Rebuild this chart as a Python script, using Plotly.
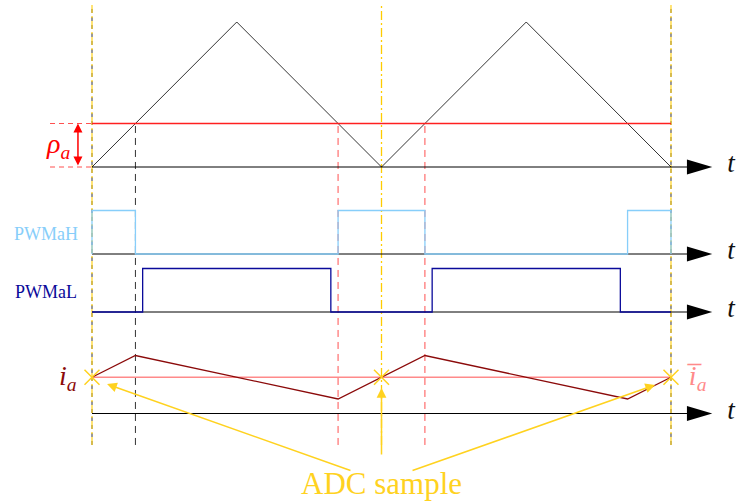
import plotly.graph_objects as go

# time in half carrier periods; signals normalised to carrier amplitude
carrier_t = [0, 1, 2, 3, 4]
carrier_v = [0, 1, 0, 1, 0]
rho = 0.3
pwm_h_edges = [(0.0, 0.3), (1.7, 2.3), (3.7, 4.0)]
pwm_l_edges = [(0.35, 1.65), (2.35, 3.65)]
current_t = [0, 0.3, 1.7, 2.3, 3.7, 4]
current_v = [0.0, 0.15, -0.15, 0.15, -0.15, 0.0]
sample_t = [0, 2, 4]
compare_t = [0.3, 1.7, 2.3]

# lane baselines
Y_CAR, Y_H, Y_L, Y_I = 0.0, -0.6, -1.0, -1.7
LANES = [Y_CAR, Y_H, Y_L, Y_I]
Y_IMEAN = -1.45
AMP = 0.3
T_END = 4
AXIS_END = 4.13
TOP, BOTTOM = 1.117, -1.917

SERIF = "Liberation Serif"
GOLD = "#FFD21F"
LIGHTBLUE = "#87CEFA"
NAVY = "#0A0A9A"
DARKRED = "#8B0A0A"
PINK = "#FF8A8A"


def step(edges, base, amp):
    xs, ys = [0], [base]
    for a, b in edges:
        xs += [a, a, b, b]
        ys += [base, base + amp, base + amp, base]
    xs.append(T_END)
    ys.append(base)
    return xs, ys


def line(fig, x, y, color, width=1, dash="solid"):
    fig.add_trace(go.Scatter(x=x, y=y, mode="lines", hoverinfo="skip",
                             line=dict(color=color, width=width, dash=dash)))


fig = go.Figure()

# vertical guides
for t in [0, T_END]:
    line(fig, [t, t], [BOTTOM, TOP], "#333333", 1, "4px,4px")
    line(fig, [t, t], [BOTTOM, TOP], GOLD, 1.2, "8px,3px,2px,3px")
line(fig, [2, 2], [BOTTOM, TOP], "#FFCC00", 1.3, "9px,3px,2px,3px")
for t in compare_t:
    col = "#333333" if t == compare_t[0] else "#FF5050"
    line(fig, [t, t], [BOTTOM, rho], col, 1, "7px,5px")

# time axes
for y in LANES:
    line(fig, [0, AXIS_END], [y, y], "black", 1)
    fig.add_shape(type="path", fillcolor="black", line=dict(width=0),
                  path=f"M {AXIS_END - 0.02} {y + 0.052} L {AXIS_END + 0.155} {y} "
                       f"L {AXIS_END - 0.02} {y - 0.052} Z")
fig.add_trace(go.Scatter(x=[4.415] * len(LANES), y=[y + 0.01 for y in LANES],
                         mode="text", text=["<i>t</i>"] * len(LANES),
                         textposition="middle center", cliponaxis=False,
                         hoverinfo="skip",
                         textfont=dict(family=SERIF, size=27, color="#111111")))

# carrier and compare level
line(fig, carrier_t, carrier_v, "black", 0.8)
line(fig, [0, T_END], [rho, rho], "#FF2020", 1.3)
line(fig, [-0.29, 0], [rho, rho], "#FF5050", 1, "5px,4px")
line(fig, [-0.29, 0], [0, 0], "#FF5050", 1, "5px,4px")
fig.add_annotation(x=-0.097, y=rho, ax=-0.097, ay=0, axref="x", ayref="y",
                   text="", showarrow=True, arrowside="end+start", arrowhead=2,
                   arrowsize=1.2, arrowwidth=1.5, arrowcolor="red")
fig.add_annotation(x=-0.235, y=0.15, text="<i>ρ</i><sub><i>a</i></sub>", showarrow=False,
                   font=dict(family=SERIF, size=28, color="red"))

# PWM signals
hx, hy = step(pwm_h_edges, Y_H, AMP)
line(fig, hx, hy, LIGHTBLUE, 1.3)
lx, ly = step(pwm_l_edges, Y_L, AMP)
line(fig, lx, ly, NAVY, 1.3)
fig.add_annotation(x=-0.32, y=Y_H + 0.14, text="PWMaH", showarrow=False,
                   font=dict(family=SERIF, size=18, color=LIGHTBLUE))
fig.add_annotation(x=-0.32, y=Y_L + 0.135, text="PWMaL", showarrow=False,
                   font=dict(family=SERIF, size=18, color=NAVY))

# phase current
line(fig, [0, T_END], [Y_IMEAN, Y_IMEAN], PINK, 1.3)
line(fig, current_t, [Y_IMEAN + v for v in current_v], DARKRED, 1.3)
fig.add_trace(go.Scatter(x=sample_t, y=[Y_IMEAN] * len(sample_t), mode="markers",
                         hoverinfo="skip",
                         marker=dict(symbol="x-thin", size=15,
                                     line=dict(color=GOLD, width=1.5))))
fig.add_annotation(x=-0.166, y=Y_IMEAN, text="<i>i</i><sub><i>a</i></sub>", showarrow=False,
                   font=dict(family=SERIF, size=28, color=DARKRED))
fig.add_annotation(x=4.1, y=Y_IMEAN, text="<i>i\u0305</i><sub><i>a</i></sub>",
                   showarrow=False, xanchor="left",
                   font=dict(family=SERIF, size=28, color=PINK))

# ADC sample arrows
for (x, y), (ax, ay) in [((0.104, -1.497), (1.796, -2.097)),
                         ((2.0, -1.524), (2.0, -1.993)),
                         ((3.89, -1.503), (2.204, -2.097))]:
    fig.add_annotation(x=x, y=y, ax=ax, ay=ay, axref="x", ayref="y", text="",
                       showarrow=True, arrowhead=2, arrowsize=1.3, arrowwidth=1.5,
                       arrowcolor=GOLD)
fig.add_annotation(x=2.0, y=-2.185, text="ADC sample", showarrow=False,
                   font=dict(family=SERIF, size=31, color=GOLD))

fig.update_layout(
    width=736,
    height=502,
    margin=dict(l=0, r=0, t=0, b=0),
    showlegend=False,
    plot_bgcolor="white",
    paper_bgcolor="white",
    xaxis=dict(range=[-0.6356, 4.4491], visible=False, fixedrange=True),
    yaxis=dict(range=[-2.3103, 1.1517], visible=False, fixedrange=True),
)
# drop the page's default body margin so the figure fills the window exactly
fig.write_html("out.html", config={"displayModeBar": False},
               post_script="document.body.style.margin='0';"
                           "document.body.style.overflow='hidden';")
